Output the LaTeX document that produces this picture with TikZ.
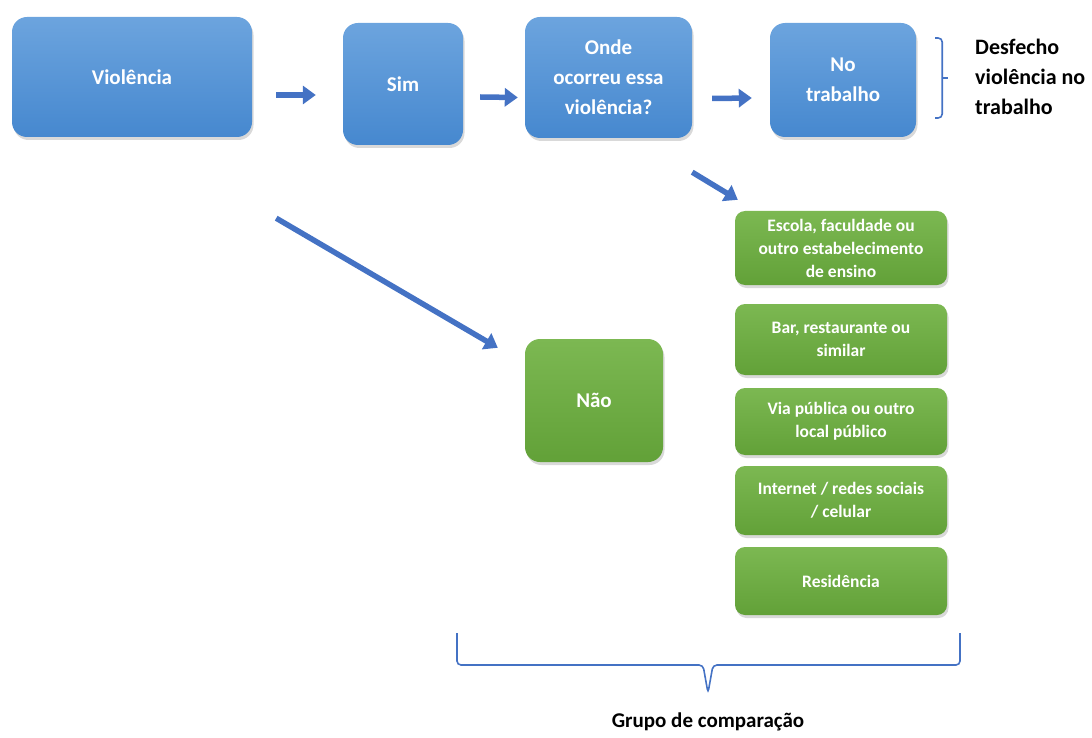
\documentclass[tikz,border=0pt]{standalone}
\usepackage{fontspec}
\setmainfont{Carlito}
\usetikzlibrary{shadows,arrows.meta,calc}
\definecolor{bluetop}{RGB}{108,164,222}
\definecolor{bluebot}{RGB}{70,136,207}
\definecolor{greentop}{RGB}{124,184,82}
\definecolor{greenbot}{RGB}{98,161,56}
\definecolor{arrowblue}{RGB}{68,114,196}
\tikzset{
  boxbase/.style={draw=none, text=white, align=center, inner sep=0pt,
    drop shadow={opacity=0.3, shadow xshift=1.5pt, shadow yshift=-3pt}},
  bluebox/.style={boxbase, rounded corners=15pt, top color=bluetop, bottom color=bluebot,
    font=\bfseries\fontsize{21}{30}\selectfont},
  greenbox/.style={boxbase, rounded corners=10pt, top color=greentop, bottom color=greenbot,
    font=\bfseries\fontsize{17.5}{23}\selectfont, minimum width=212pt},
  bigtext/.style={text=black, font=\bfseries\fontsize{22}{30}\selectfont, inner sep=0pt},
  arr/.style={draw=arrowblue, line width=5.5pt, -{Triangle[length=13pt,width=18pt]}},
  brace/.style={draw=arrowblue, line width=1.6pt, rounded corners=4pt},
}
\begin{document}
\begin{tikzpicture}[x=1pt,y=-1pt]
\useasboundingbox (0,0) rectangle (1092,738);
% blue row
\node[bluebox, minimum width=240pt, minimum height=120pt] (vio) at (132,77) {Violência};
\node[bluebox, minimum width=120pt, minimum height=122pt] (sim) at (403,84) {Sim};
\node[bluebox, minimum width=167pt, minimum height=121pt] (onde) at (608.5,77.5) {Onde\\ocorreu essa\\violência?};
\node[bluebox, minimum width=146pt, minimum height=114pt] (notr) at (843,80) {No\\trabalho};
% green column
\node[greenbox, minimum height=74pt] (esc) at (841,248) {Escola, faculdade ou\\outro estabelecimento\\de ensino};
\node[greenbox, minimum height=71pt] (bar) at (841,339.5) {Bar, restaurante ou\\similar};
\node[greenbox, minimum height=67pt] (via) at (841,421.5) {Via pública ou outro\\local público};
\node[greenbox, minimum height=69pt] (inet) at (841,500.5) {Internet / redes sociais\\/ celular};
\node[greenbox, minimum height=68pt] (res) at (841,581) {Residência};
\node[boxbase, rounded corners=15pt, top color=greentop, bottom color=greenbot,
  font=\bfseries\fontsize{21}{30}\selectfont, minimum width=138pt, minimum height=123pt] (nao) at (594,400.5) {Não};
% labels
\node[bigtext, anchor=west, align=left] (desf) at (975,77) {Desfecho\\violência no\\trabalho};
\node[bigtext, font=\bfseries\fontsize{21}{30}\selectfont] (grupo) at (708,722) {Grupo de comparação};
% arrows
\draw[arr] ([shift={(24,18)}]vio.east) -- ([shift={(-27,11)}]sim.west);
\draw[arr] ([shift={(17,13)}]sim.east) -- ([shift={(-7,20)}]onde.west);
\draw[arr] ([shift={(20,21)}]onde.east) -- ([shift={(-18,18)}]notr.west);
\draw[arr] ([shift={(0,34)}]onde.south east) -- ([shift={(3,-11)}]esc.north west);
\draw[arr] ([shift={(24,81)}]vio.south east) -- ([shift={(-27,9)}]nao.north west);
% right bracket
\coordinate (rb) at ([shift={(19,0)}]notr.east);
\draw[brace] ([shift={(0,-42)}]rb) -- ([shift={(7,-42)}]rb) -- ([shift={(7,38)}]rb) -- ([shift={(0,38)}]rb);
\draw[draw=arrowblue, line width=1.6pt] ([shift={(7,-2)}]rb) -- ([shift={(13,-2)}]rb);
% bottom bracket
\coordinate (bt) at (708,693);
\draw[brace] (457,633) -- (457,665) -- (703,665) -- (bt) -- (713,665) -- (960,665) -- (960,633);
\end{tikzpicture}
\end{document}
